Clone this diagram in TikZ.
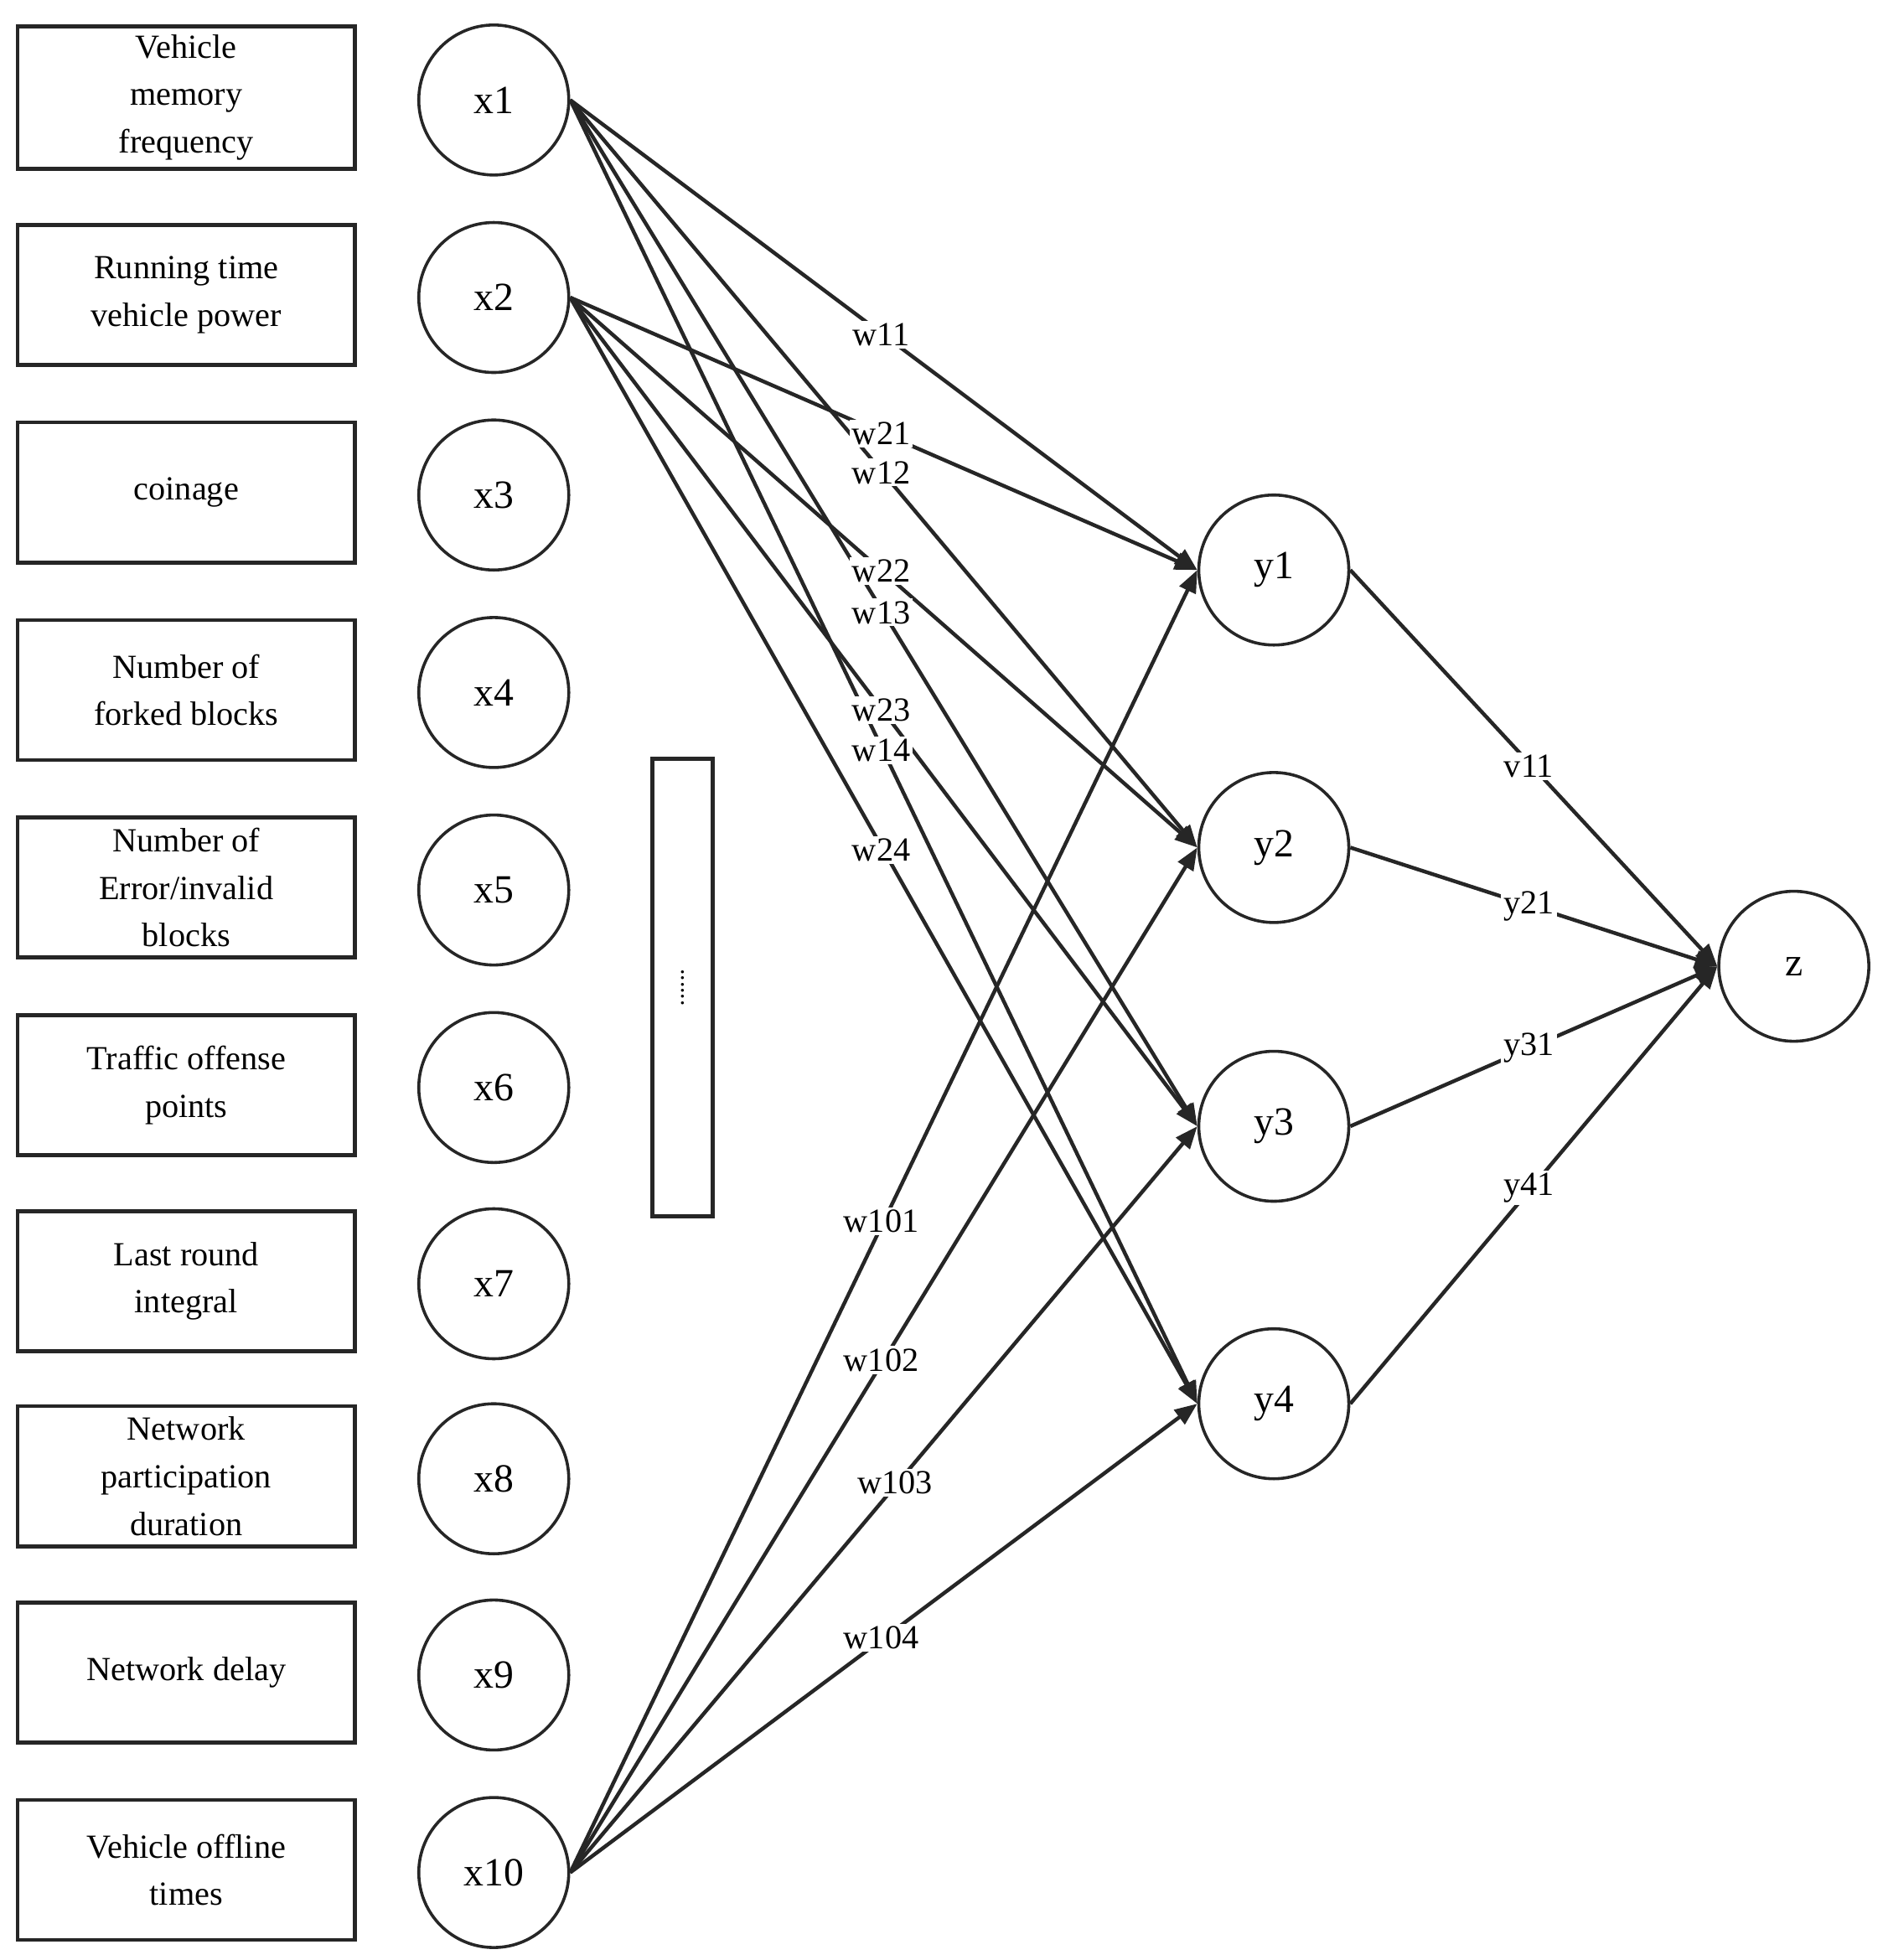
\documentclass[tikz,border=0pt]{standalone}
\usepackage{fontspec}
\setmainfont{Liberation Serif}
\usetikzlibrary{arrows.meta}
\begin{document}
\begin{tikzpicture}[x=0.5pt,y=-0.5pt,
  box/.style={draw=black!85,line width=1.5pt,minimum width=135pt,minimum height=56pt,align=center,font=\fontsize{13.5}{19}\selectfont},
  neu/.style={draw=black!85,circle,line width=1.2pt,minimum size=60pt,font=\fontsize{16}{19}\selectfont},
  lab/.style={fill=white,inner sep=1pt,font=\fontsize{13.5}{16}\selectfont},
  con/.style={draw=black!85,line width=1.5pt,-{Triangle[length=9pt,width=7pt]}}]
\useasboundingbox (0,0) rectangle (1510,1568);
\foreach \i/\y/\t in {1/78/{Vehicle\\memory\\frequency},2/236/{Running time\\vehicle power},3/394/{coinage},4/552/{Number of\\forked blocks},5/710/{Number of\\Error/invalid\\blocks},6/868/{Traffic offense\\points},7/1025/{Last round\\integral},8/1181/{Network\\participation\\duration},9/1338/{Network delay},10/1496/{Vehicle offline\\times}}{
  \node[box] (b\i) at (149,\y) {\t};
  \node[neu] (x\i) at (395,\y+2) {x\i};
}
\node[draw=black!85,line width=1.5pt,minimum width=24pt,minimum height=183pt] (dots) at (546,790) {};
\node[rotate=-90,font=\normalsize] (dt) at (dots.center) {......};
\foreach \i/\y in {1/456,2/678,3/901,4/1123}{\node[neu] (y\i) at (1019,\y) {y\i};}
\node[neu] (z) at (1435,773) {z};
\foreach \s in {1,2,10}{\foreach \t in {1,2,3,4}{\draw[con] (x\s.east) -- (y\t.west);}}
\foreach \t in {1,2,3,4}{\draw[con] (y\t.east) -- (z.west);}
\foreach \n/\x/\y in {w11/705/268,w21/705/347,w12/705/378,w22/705/457,w13/705/490,w23/705/568,w14/705/600,w24/705/680,w101/705/977,w102/705/1088,w103/716/1186,w104/705/1310,v11/1223/613,y21/1223/725,y31/1223/838,y41/1223/950}{
  \node[lab] (l\n) at (\x,\y) {\n};
}
\end{tikzpicture}
\end{document}
